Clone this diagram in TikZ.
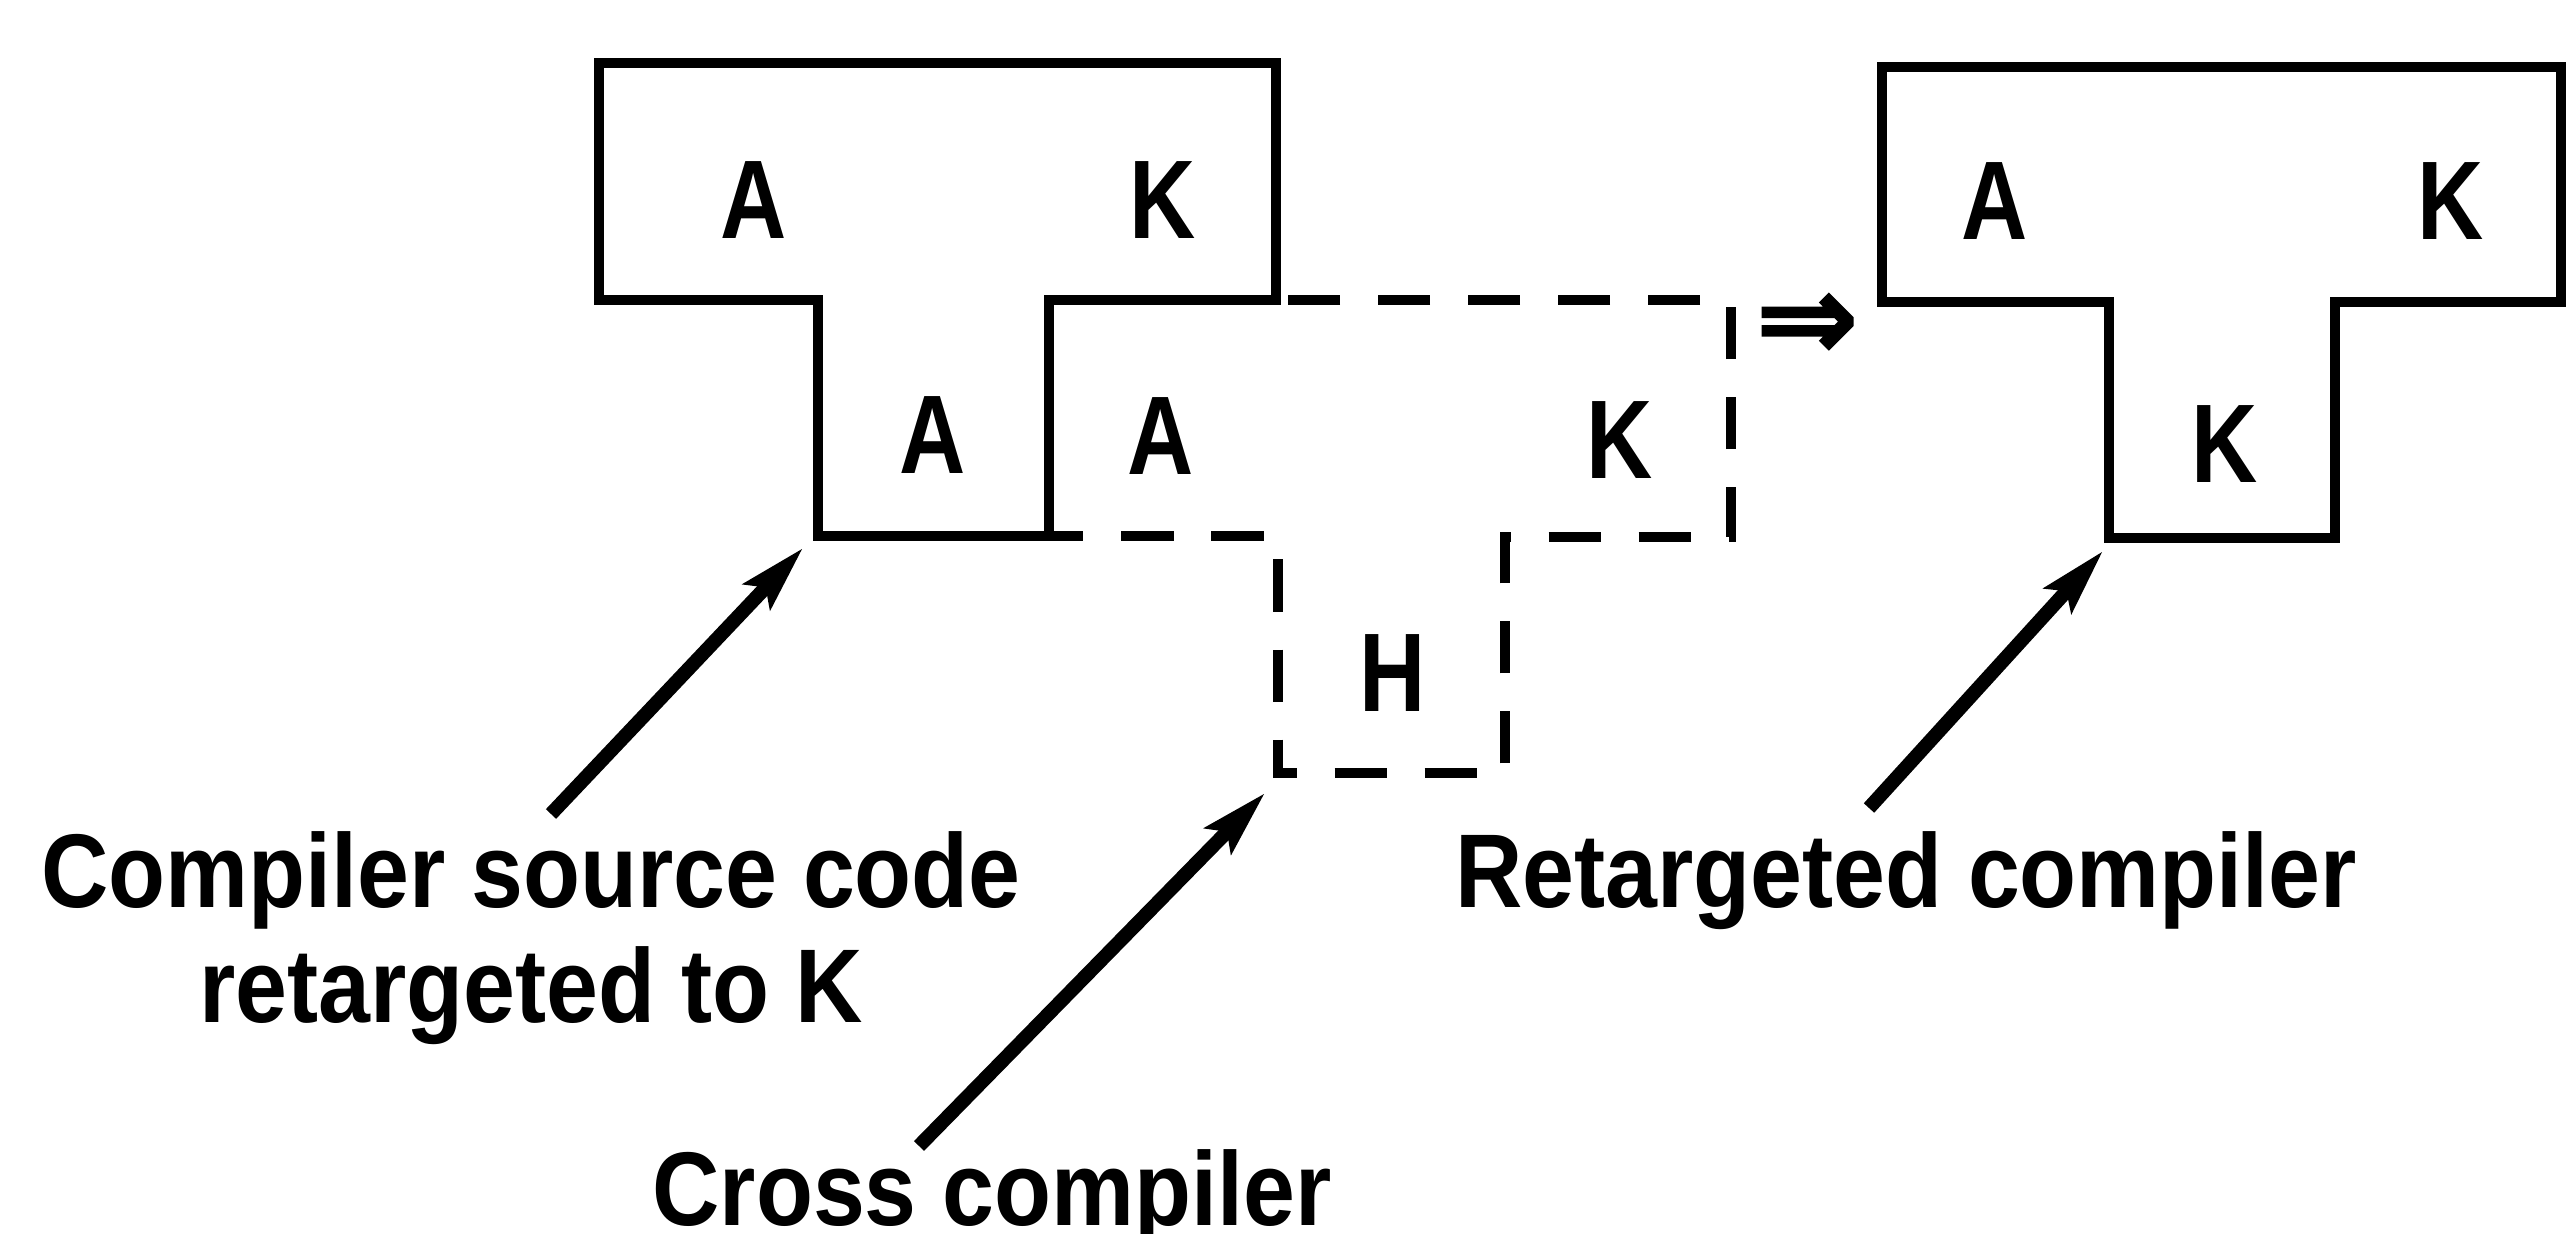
\documentclass[tikz,border=0pt]{standalone}
\usepackage{fontspec}
\setmainfont{Liberation Sans}
\newfontfamily\lblfont[FakeStretch=0.89]{Liberation Sans}
\newfontfamily\letfont[FakeStretch=0.82]{Liberation Sans}
\newfontfamily\symfont[FakeBold=1.5]{DejaVu Sans}
\usetikzlibrary{arrows.meta}
\begin{document}
\begin{tikzpicture}[x=0.01cm,y=-0.01cm,
  outline/.style={line width=3.1pt, line join=miter},
  dashline/.style={line width=2.9pt, dash pattern=on 14.8pt off 10.8pt, dash phase=5pt},
  tletter/.style={font=\letfont\bfseries\fontsize{31.8}{36}\selectfont, inner sep=0pt},
  lbltext/.style={font=\lblfont\bfseries\fontsize{29.8}{32.7}\selectfont, inner sep=0pt, align=center},
  pointer/.style={line width=4pt, -{Stealth[length=0.66cm,width=0.36cm,inset=0.12cm]}}
]
\useasboundingbox (0,0) rectangle (2566,1234);

% left T: compiler source
\draw[outline] (599,63) -- (1276,63) -- (1276,300) -- (1049,300) -- (1049,536)
  -- (818,536) -- (818,300) -- (599,300) -- cycle;
% dashed T: cross compiler
\draw[dashline] (1049,536) -- (1278,536) -- (1278,773) -- (1505,773) -- (1505,537)
  -- (1731,537) -- (1731,300) -- (1276,300);
% right T: retargeted compiler
\draw[outline] (1882,67) -- (2561,67) -- (2561,302) -- (2335,302) -- (2335,538)
  -- (2109,538) -- (2109,302) -- (1882,302) -- cycle;

% letters
\node[tletter] (lA1) at (754,200) {A};
\node[tletter] (lK1) at (1163,200) {K};
\node[tletter] (lA2) at (933,435) {A};
\node[tletter] (cA) at (1161,436) {A};
\node[tletter] (cK) at (1620,440) {K};
\node[tletter] (cH) at (1393,673) {H};
\node[tletter] (rA) at (1995,201) {A};
\node[tletter] (rK1) at (2451,201) {K};
\node[tletter] (rK2) at (2225,444) {K};

% implies symbol
\node[font=\symfont\bfseries\fontsize{35}{38}\selectfont, inner sep=0pt] (imp) at (1807,327) {⇒};

% captions
\node[lbltext, anchor=base] (lbl1) at (531,1022) {Compiler source code\\retargeted to K};
\node[lbltext, anchor=base] (lbl2) at (1906,907) {Retargeted compiler};
\node[lbltext, anchor=base] (lbl3) at (992,1225) {Cross compiler};

% pointer arrows
\coordinate (t1) at (551,814); \coordinate (h1) at (803,548);
\coordinate (t2) at (919,1146); \coordinate (h2) at (1265,793);
\coordinate (t3) at (1869,808); \coordinate (h3) at (2103,551);
\draw[pointer] (t1) -- (h1);
\draw[pointer] (t2) -- (h2);
\draw[pointer] (t3) -- (h3);
\end{tikzpicture}
\end{document}
